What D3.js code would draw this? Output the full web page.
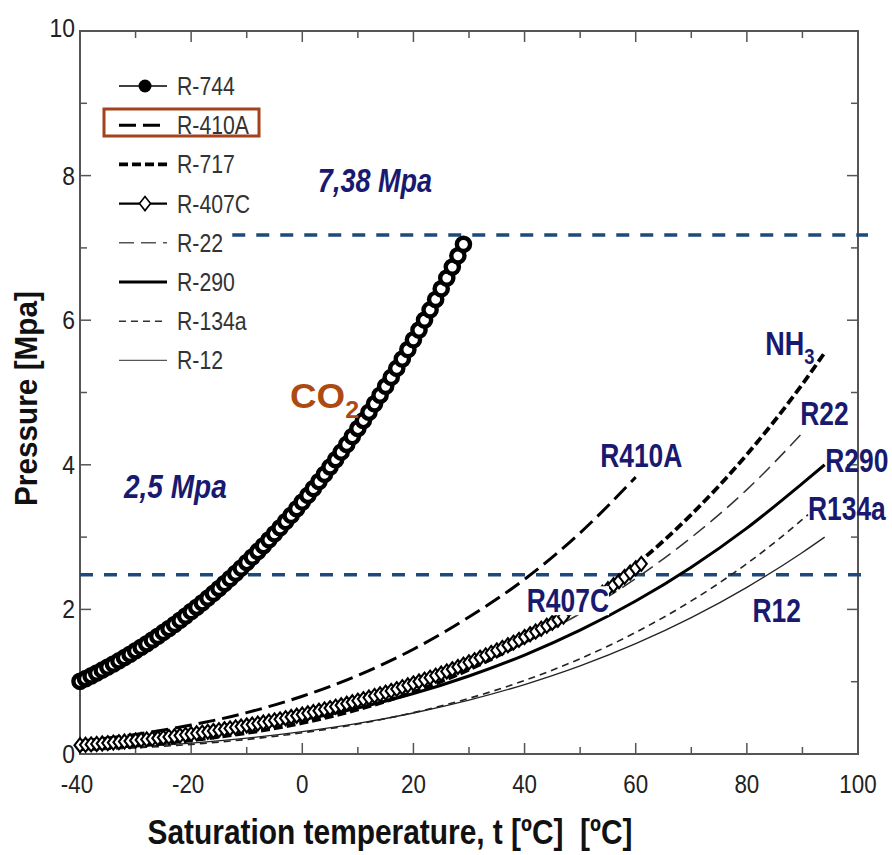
<!DOCTYPE html>
<html>
<head>
<meta charset="utf-8">
<script src="https://cdn.jsdelivr.net/npm/d3@7"></script>
<style>
  body { margin: 0; background: #fff; }
  text { font-family: "Liberation Sans", Arial, sans-serif; }
</style>
</head>
<body>
<div id="chart"></div>
<script>
// saturation pressure [MPa] vs temperature [C]
const co2_t = d3.range(-40, 30)
const co2_p = [1.005,1.042,1.080,1.119,1.160,1.202,1.244,1.288,1.333,1.380,
               1.428,1.476,1.525,1.576,1.628,1.682,1.736,1.792,1.849,1.908,
               1.970,2.030,2.092,2.156,2.222,2.290,2.358,2.427,2.499,2.572,
               2.649,2.724,2.801,2.881,2.962,3.046,3.129,3.215,3.302,3.393,
               3.485,3.577,3.671,3.768,3.868,3.970,4.071,4.175,4.282,4.391,
               4.502,4.613,4.727,4.844,4.963,5.086,5.209,5.334,5.463,5.594,
               5.729,5.864,6.002,6.143,6.287,6.434,6.583,6.735,6.891,7.050]

const r407c_t = d3.range(-40, 48).concat(d3.range(54, 62))
const r407c_p = [0.122,0.127,0.133,0.139,0.145,0.151,0.158,0.164,0.172,0.179,
                 0.187,0.194,0.202,0.210,0.218,0.227,0.236,0.245,0.255,0.265,
                 0.276,0.286,0.296,0.307,0.318,0.330,0.342,0.354,0.367,0.380,
                 0.394,0.407,0.421,0.435,0.449,0.464,0.479,0.495,0.512,0.529,
                 0.546,0.563,0.580,0.598,0.616,0.635,0.654,0.674,0.695,0.716,
                 0.738,0.759,0.781,0.803,0.826,0.849,0.873,0.898,0.924,0.950,
                 0.977,1.003,1.029,1.056,1.084,1.113,1.142,1.172,1.203,1.235,
                 1.268,1.299,1.331,1.364,1.398,1.433,1.468,1.504,1.541,1.579,
                 1.618,1.656,1.694,1.733,1.773,1.815,1.857,1.900,
                 2.230,2.280,2.335,2.390,2.450,2.510,2.570,2.630]

const r410a_t = [-40,-30,-20,-10,0,10,20,30,40,50,60]
const r410a_p = [0.176,0.271,0.400,0.572,0.799,1.088,1.449,1.894,2.417,3.059,3.830]

const r717_t = [-40,-30,-20,-10,0,10,20,30,40,50,60,70,80,90,94]
const r717_p = [0.072,0.120,0.190,0.291,0.429,0.615,0.857,1.167,1.555,2.033,2.614,3.312,4.142,5.116,5.55]

const r22_t = [-40,-30,-20,-10,0,10,20,30,40,50,60,70,80,90]
const r22_p = [0.105,0.164,0.245,0.355,0.498,0.681,0.910,1.192,1.534,1.943,2.427,2.995,3.656,4.44]

const r290_t = [-40,-30,-20,-10,0,10,20,30,40,50,60,70,80,90,94]
const r290_p = [0.111,0.168,0.245,0.345,0.474,0.637,0.836,1.079,1.369,1.713,2.116,2.584,3.124,3.743,4.0]

const r134a_t = [-40,-30,-20,-10,0,10,20,30,40,50,60,70,80,90,91]
const r134a_p = [0.051,0.084,0.133,0.201,0.293,0.415,0.572,0.770,1.017,1.318,1.682,2.117,2.633,3.244,3.31]

const r12_t = [-40,-30,-20,-10,0,10,20,30,40,50,60,70,80,90,94]
const r12_p = [0.064,0.100,0.151,0.219,0.309,0.423,0.567,0.745,0.961,1.219,1.526,1.886,2.305,2.788,3.0]

const legend_names = ['R-744','R-410A','R-717','R-407C','R-22','R-290','R-134a','R-12']
const x_ticks = [-40,-20,0,20,40,60,80,100]
const y_ticks = [0,2,4,6,8,10]

// reference pressures (dashed blue lines) and where they run
const crit_p = 7.18, crit_from = -12.6
const limit_p = 2.48, limit_from = -40
const line_to = 101.8

init()

function init(){
    const W = 892, H = 855
    const m = {left: 80, right: 34, top: 31, bottom: 101}

    let svg = d3.select('#chart')
                .append('svg')
                .attr('width', W)
                .attr('height', H)

    svg.append('rect').attr('width', W).attr('height', H).attr('fill', '#fff')

    const x = d3.scaleLinear().domain([-40, 100]).range([m.left, W - m.right])
    const y = d3.scaleLinear().domain([0, 10]).range([H - m.bottom, m.top])

    const axis_col = '#555'
    const tick_col = '#222'

    // the source picture is squeezed sideways, so text gets a narrow x scale
    function ntext(px, py, size, sx, anchor){
        return svg.append('text')
            .attr('transform', `translate(${px},${py}) scale(${sx},1)`)
            .attr('font-size', size)
            .attr('text-anchor', anchor || 'start')
    }

    // frame
    svg.append('rect')
        .attr('x', x(-40)).attr('y', y(10))
        .attr('width', x(100) - x(-40)).attr('height', y(0) - y(10))
        .attr('fill', 'none').attr('stroke', axis_col).attr('stroke-width', 2)

    // inward ticks on all four sides
    const xmin = d3.range(-30, 100, 20), ymin = d3.range(1, 10, 2)
    const tk = svg.append('g').attr('stroke', axis_col).attr('stroke-width', 1.5)
    x_ticks.slice(1, -1).forEach(v => {
        tk.append('line').attr('x1', x(v)).attr('x2', x(v)).attr('y1', y(0)).attr('y2', y(0) - 11)
        tk.append('line').attr('x1', x(v)).attr('x2', x(v)).attr('y1', y(10)).attr('y2', y(10) + 11)
    })
    xmin.forEach(v => {
        tk.append('line').attr('x1', x(v)).attr('x2', x(v)).attr('y1', y(0)).attr('y2', y(0) - 7)
        tk.append('line').attr('x1', x(v)).attr('x2', x(v)).attr('y1', y(10)).attr('y2', y(10) + 7)
    })
    y_ticks.slice(1, -1).forEach(v => {
        tk.append('line').attr('x1', x(-40)).attr('x2', x(-40) + 11).attr('y1', y(v)).attr('y2', y(v))
        tk.append('line').attr('x1', x(100)).attr('x2', x(100) - 11).attr('y1', y(v)).attr('y2', y(v))
    })
    ymin.forEach(v => {
        tk.append('line').attr('x1', x(-40)).attr('x2', x(-40) + 7).attr('y1', y(v)).attr('y2', y(v))
        tk.append('line').attr('x1', x(100)).attr('x2', x(100) - 7).attr('y1', y(v)).attr('y2', y(v))
    })

    // tick labels
    x_ticks.forEach(d => {
        ntext(x(d) - (d < 0 ? 3 : 0), y(0) + 39, 26, 0.86, 'middle')
            .attr('fill', tick_col).text(d)
    })
    y_ticks.forEach(d => {
        ntext(x(-40) - 5, y(d) + 9 - (d == 10 ? 3 : 0), 26, 0.88, 'end')
            .attr('fill', tick_col).text(d)
    })

    // axis titles
    svg.append('text')
        .attr('transform', `translate(37,${(y(0) + y(10)) / 2 + 6}) rotate(-90) scale(0.93,1)`)
        .attr('text-anchor', 'middle').attr('font-size', 32).attr('font-weight', 'bold')
        .attr('fill', '#111')
        .text('Pressure [Mpa]')
    ntext(390, 844, 36, 0.83, 'middle')
        .attr('font-weight', 'bold').attr('fill', '#111')
        .text('Saturation temperature, t [ºC]  [ºC]')
        .style('white-space', 'pre')

    // reference pressure lines
    const blue = '#1d4a7a'
    ;[[crit_p, crit_from], [limit_p, limit_from]].forEach(([p, from]) => {
        svg.append('line')
            .attr('x1', x(from)).attr('x2', x(line_to))
            .attr('y1', y(p)).attr('y2', y(p))
            .attr('stroke', blue).attr('stroke-width', 3.5)
            .attr('stroke-dasharray', '13,11')
    })

    // curves
    const line = d3.line().x(d => x(d[0])).y(d => y(d[1])).curve(d3.curveMonotoneX)
    const zip = (t, p) => t.map((v, i) => [v, p[i]])

    const styles = [
        {t: r12_t,   p: r12_p,   w: 1.3, dash: null,    col: '#222'},
        {t: r134a_t, p: r134a_p, w: 1.6, dash: '7,5',   col: '#222'},
        {t: r290_t,  p: r290_p,  w: 3,   dash: null,    col: '#000'},
        {t: r22_t,   p: r22_p,   w: 1.5, dash: '15,7',  col: '#333'},
        {t: r717_t,  p: r717_p,  w: 3.8, dash: '9,4',   col: '#000'},
        {t: r410a_t, p: r410a_p, w: 3,   dash: '17,7',  col: '#000'}
    ]
    styles.forEach(s => {
        svg.append('path')
            .attr('d', line(zip(s.t, s.p)))
            .attr('fill', 'none').attr('stroke', s.col)
            .attr('stroke-width', s.w)
            .attr('stroke-dasharray', s.dash)
    })

    // R-407C open diamonds
    const diamond = 'M0,-7L5.5,0L0,7L-5.5,0Z'
    svg.append('g').selectAll('path').data(zip(r407c_t, r407c_p)).join('path')
        .attr('transform', d => `translate(${x(d[0])},${y(d[1])})`)
        .attr('d', diamond)
        .attr('fill', '#fff').attr('stroke', '#000').attr('stroke-width', 2.1)

    // R-744 dots, packed so tightly they read as a chain of crescents
    svg.append('g').selectAll('circle').data(zip(co2_t, co2_p)).join('circle')
        .attr('cx', d => x(d[0])).attr('cy', d => y(d[1]))
        .attr('r', 6.6)
        .attr('fill', '#fff').attr('stroke', '#000').attr('stroke-width', 4.4)

    // curve labels
    const navy = '#18196f'
    const label = (t, p, txt, sub, size, sx, col, italic) => {
        let g = ntext(x(t), y(p), size, sx)
            .attr('font-weight', 'bold')
            .attr('fill', col)
            .attr('font-style', italic ? 'italic' : null)
        g.append('tspan').text(txt)
        if (sub) g.append('tspan').attr('font-size', size * 0.68).attr('dy', size * 0.28).text(sub)
        return g
    }
    // white patch behind R407C label
    svg.append('rect')
        .attr('x', x(40.2)).attr('y', y(2.32))
        .attr('width', x(55.2) - x(40.2)).attr('height', y(1.92) - y(2.32))
        .attr('fill', '#fff')

    label(83.3, 5.52, 'NH', '3', 33, 0.82, navy)
    label(89.6, 4.55, 'R22', null, 33, 0.8, navy)
    label(94.1, 3.90, 'R290', null, 33, 0.8, navy)
    label(91.0, 3.24, 'R134a', null, 33, 0.8, navy)
    label(81.0, 1.83, 'R12', null, 33, 0.8, navy)
    label(53.6, 3.97, 'R410A', null, 33, 0.8, navy)
    label(40.4, 1.96, 'R407C', null, 33, 0.8, navy)
    label(-2.2, 4.78, 'CO', '2', 35, 1.05, '#ad4a12')
    label(2.8, 7.77, '7,38 Mpa', null, 33, 0.82, navy, true)
    label(-32.1, 3.54, '2,5 Mpa', null, 33, 0.85, navy, true)

    // legend
    const lg = svg.append('g')
    const ly = i => 86 + i * 39.2
    const lstyle = [
        {w: 1.5, dash: null,   col: '#000'},
        {w: 3,   dash: '17,7', col: '#000'},
        {w: 3.8, dash: '9,4',  col: '#000'},
        {w: 2.2, dash: null,   col: '#000'},
        {w: 1.5, dash: '15,7', col: '#555'},
        {w: 3,   dash: null,   col: '#000'},
        {w: 1.6, dash: '7,5',  col: '#333'},
        {w: 1.4, dash: null,   col: '#555'}
    ]
    legend_names.forEach((n, i) => {
        lg.append('line')
            .attr('x1', 119).attr('x2', 167).attr('y1', ly(i)).attr('y2', ly(i))
            .attr('stroke', lstyle[i].col).attr('stroke-width', lstyle[i].w)
            .attr('stroke-dasharray', lstyle[i].dash)
        ntext(177, ly(i) + 9, 25, 0.85)
            .attr('fill', '#333')
            .text(n)
    })
    lg.append('circle').attr('cx', 145).attr('cy', ly(0)).attr('r', 6.5).attr('fill', '#000')
    lg.append('path')
        .attr('transform', `translate(145,${ly(3)})`)
        .attr('d', diamond)
        .attr('fill', '#fff').attr('stroke', '#000').attr('stroke-width', 1.6)

    lg.append('rect')
        .attr('x', 104).attr('y', 109).attr('width', 155).attr('height', 27)
        .attr('fill', 'none').attr('stroke', '#a3421c').attr('stroke-width', 3)
}
</script>
</body>
</html>
